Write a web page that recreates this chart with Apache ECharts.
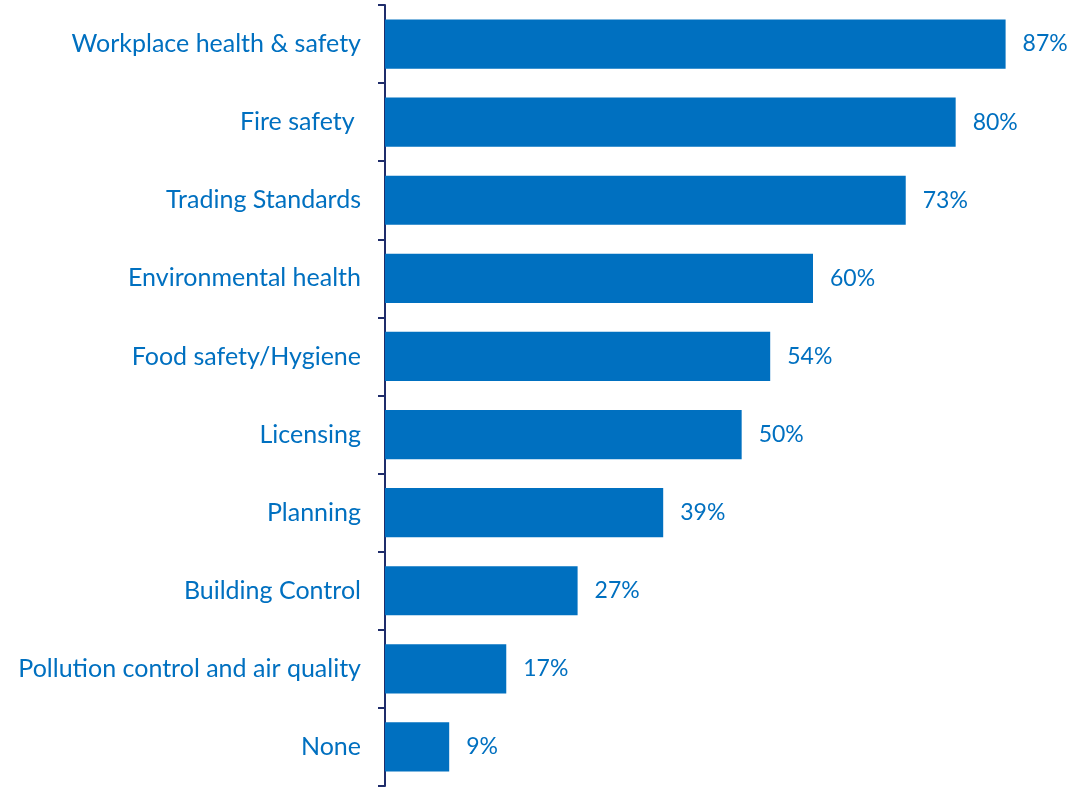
<!DOCTYPE html>
<html>
<head>
<meta charset="utf-8">
<script src="https://cdn.jsdelivr.net/npm/echarts@6/dist/echarts.min.js"></script>
<style>
  html, body { margin: 0; padding: 0; background: #fff; }
  #chart { width: 1072px; height: 787px; }
</style>
</head>
<body>
<div id="chart"></div>
<script>
// categories top to bottom, values in percent
var categories = [
  'Workplace health & safety',
  'Fire safety ',
  'Trading Standards',
  'Environmental health',
  'Food safety/Hygiene',
  'Licensing',
  'Planning',
  'Building Control',
  'Pollution control and air quality',
  'None'
];
var values = [87, 80, 73, 60, 54, 50, 39, 27, 17, 9];

var blue = '#0070C0';
var fontFamily = 'Lato, "Open Sans", sans-serif';

var chart = echarts.init(document.getElementById('chart'));
chart.setOption({
  animation: false,
  grid: { left: 385, right: 45, top: 5, bottom: 1 },
  xAxis: {
    type: 'value',
    min: 0,
    max: 90,
    show: false
  },
  yAxis: {
    type: 'category',
    data: categories,
    inverse: true,
    axisLine: { show: true, lineStyle: { color: '#1F2D6B', width: 2 } },
    axisTick: { show: true, length: 7, lineStyle: { color: '#1F2D6B', width: 2 } },
    axisLabel: { color: blue, fontSize: 25, fontFamily: fontFamily, margin: 24 },
    splitLine: { show: false }
  },
  series: [{
    type: 'bar',
    data: values,
    barWidth: '63%',
    itemStyle: { color: blue },
    label: {
      show: true,
      position: 'right',
      distance: 17,
      color: blue,
      fontSize: 23,
      fontFamily: fontFamily,
      formatter: '{c}%'
    }
  }]
});
</script>
</body>
</html>
